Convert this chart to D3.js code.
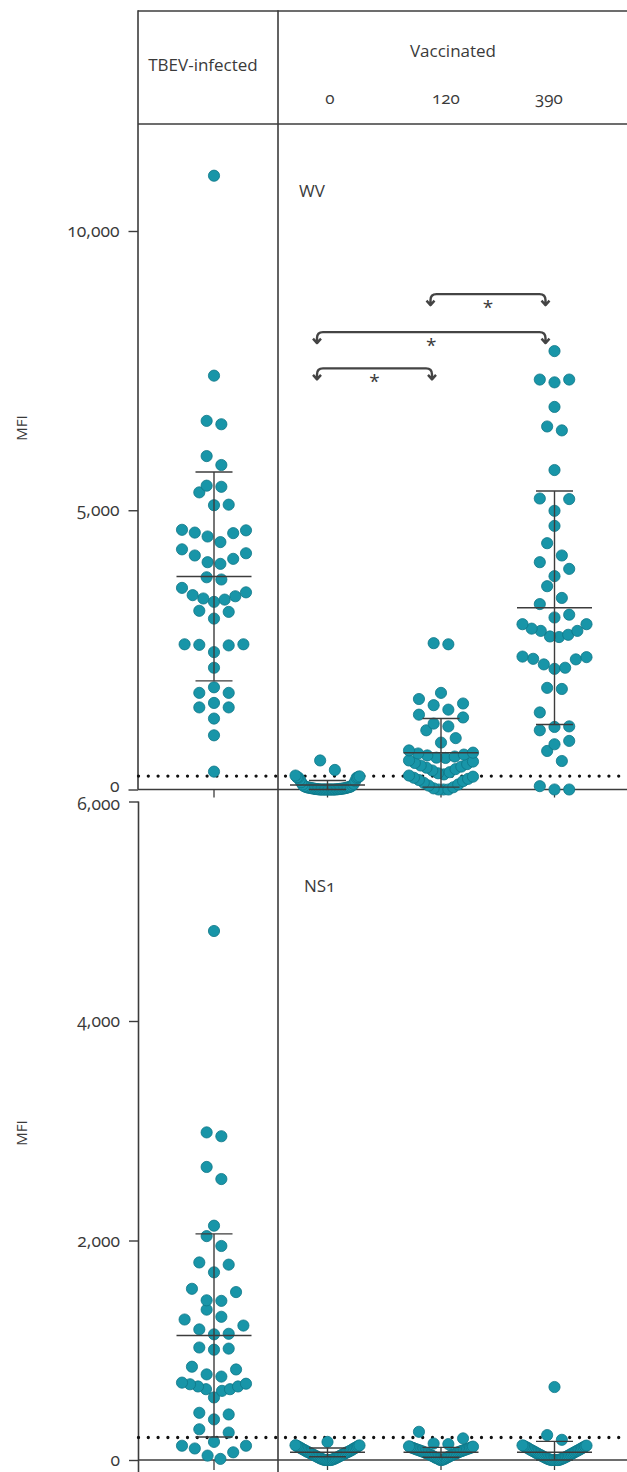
<!DOCTYPE html>
<html><head><meta charset="utf-8">
<script src="https://cdn.jsdelivr.net/npm/d3@7"></script>
<style>
body{margin:0;background:#fff;}
svg text{font-family:"Open Sans",sans-serif;fill:#3a3a3a;font-variant-numeric:oldstyle-nums;}
</style></head><body>
<svg id="c" width="627" height="1472"></svg>
<script>
// ---- data ----
const groups = ["TBEV-infected", "0", "120", "390"];
const wvTBEV = [10990, 7410, 6600, 6540, 5970, 5810, 5440, 5420, 5320, 5100, 5090, 4650, 4600, 4530, 4430, 4590, 4640, 4300, 4190, 4230, 4130, 4040, 4070, 3800, 3760, 3610, 3480, 3420, 3360, 3400, 3460, 3530, 3180, 3200, 3060, 2600, 2600, 2580, 2590, 2460, 2180, 1830, 1730, 1730, 1470, 1550, 1470, 1270, 970, 320];
const wv0 = [520, 350, 250, 235, 220, 220, 215, 210, 175, 150, 130, 100, 90, 75, 60, 55, 50, 45, 40, 40, 35, 30, 30, 25, 25, 20, 20, 15, 15, 12, 10, 10, 8, 5, 5, 5, 0, 0, 0, 0, 0, 0, 0, 0, 0, 0, 0, 0];
const wv120 = [2600, 2620, 1730, 1620, 1540, 1510, 1430, 1340, 1290, 1180, 1130, 1060, 920, 840, 700, 660, 645, 625, 610, 590, 570, 565, 520, 500, 475, 455, 430, 410, 390, 365, 340, 310, 290, 270, 250, 230, 210, 190, 170, 150, 120, 90, 70, 40, 20, 0, 0, 0];
const wv390 = [7850, 7340, 7290, 7340, 6850, 6430, 6500, 5720, 5210, 5200, 4990, 4720, 4410, 4190, 4070, 3950, 3820, 3640, 3430, 3320, 3130, 3080, 2960, 2840, 2770, 2730, 2740, 2840, 2880, 2960, 2370, 2330, 2180, 2160, 2240, 2340, 2380, 1800, 1820, 1380, 1130, 1060, 1120, 870, 810, 690, 510, 60, 0, 0];
const nsTBEV = [4820, 2985, 2950, 2670, 2560, 2135, 2040, 1950, 1780, 1800, 1710, 1530, 1560, 1450, 1455, 1370, 1305, 1280, 1225, 1190, 1150, 1145, 1015, 1005, 1025, 825, 850, 760, 780, 695, 670, 645, 630, 570, 645, 670, 690, 705, 430, 415, 370, 250, 280, 165, 130, 130, 105, 70, 40, 10];
const ns0 = [165, 135, 133, 128, 126, 121, 118, 114, 111, 107, 104, 99, 96, 93, 88, 86, 82, 78, 75, 73, 70, 66, 63, 60, 57, 52, 50, 47, 44, 40, 37, 33, 30, 27, 24, 20, 17, 14, 12, 9, 6, 4, 2, 0, 0, 0, 0, 0];
const ns120 = [257, 197, 150, 145, 125, 122, 118, 115, 112, 110, 108, 105, 102, 100, 97, 95, 92, 90, 88, 85, 82, 80, 78, 75, 72, 70, 66, 62, 60, 57, 55, 52, 48, 45, 42, 40, 35, 32, 28, 25, 20, 18, 15, 10, 8, 5, 0, 0];
const ns390 = [665, 227, 184, 134, 131, 127, 124, 120, 116, 113, 109, 106, 101, 97, 94, 90, 86, 83, 80, 76, 72, 68, 65, 61, 58, 54, 50, 47, 43, 40, 36, 33, 29, 26, 22, 19, 16, 13, 10, 7, 5, 3, 0, 0, 0, 0, 0, 0];
const wvMean = [3815, 80, 657, 3255];
const wvSD = [1870, 80, 615, 2090];
const nsMean = [1135, 70, 70, 70];
const nsSD = [925, 40, 45, 100];
const wvTicks = [0, 5000, 10000];
const nsTicks = [0, 2000, 4000, 6000];
const wvCutoff = 240;
const nsCutoff = 205;
const compFrom = ["0", "0", "120"];
const compTo = ["120", "390", "390"];
const compLevel = [7540, 8190, 8870];
const compLabel = ["*", "*", "*"];
const panelLabels = ["WV", "NS1"];

// ---- drawing ----
const svg = d3.select("#c");
const LINE = "#3c3c3c";
const x = d3.scalePoint().domain(groups).range([214, 554.5]);
const yWV = d3.scaleLinear().domain([0, 10000]).range([789.5, 231]);
const yNS = d3.scaleLinear().domain([0, 6000]).range([1460, 801.5]);

function ln(x1, y1, x2, y2, w) {
  svg.append("line").attr("x1", x1).attr("y1", y1).attr("x2", x2).attr("y2", y2)
    .attr("stroke", LINE).attr("stroke-width", w || 1.6);
}
// frame
ln(138, 11, 627, 11);
ln(138, 124, 627, 124);
ln(138, 10.2, 138, yWV(0));
ln(278, 10.2, 278, 1472);
ln(138, yWV(0), 627, yWV(0));
ln(138.5, yNS(6000), 138.5, 1472);
ln(138, yNS(0), 627, yNS(0));

// header
svg.append("text").attr("x", 203).attr("y", 71).attr("text-anchor", "middle").attr("font-size", 17).text(groups[0]);
svg.append("text").attr("x", 453).attr("y", 57).attr("text-anchor", "middle").attr("font-size", 17).text("Vaccinated");
const headX = [330, 446, 549];
groups.slice(1).forEach((g, i) => {
  svg.append("text").attr("x", headX[i]).attr("y", 104).attr("text-anchor", "middle").attr("font-size", 17).text(g);
});
svg.append("text").attr("x", 299).attr("y", 197).attr("font-size", 17).text(panelLabels[0]);
svg.append("text").attr("x", 304).attr("y", 892).attr("font-size", 17).text(panelLabels[1]);

// y axes
function yAxis(scale, ticks, x0) {
  const g = svg.append("g").attr("transform", `translate(${x0},0)`)
    .call(d3.axisLeft(scale).tickValues(ticks).tickFormat(d3.format(",")).tickSize(9.5).tickPadding(9));
  g.select(".domain").remove();
  g.selectAll(".tick line").attr("stroke", LINE).attr("stroke-width", 1.4);
  g.selectAll(".tick text").attr("font-size", 17.5).attr("fill", "#3a3a3a")
    .style("font-family", "'Open Sans',sans-serif");
  return g;
}
const axTop = yAxis(yWV, wvTicks, 138);
axTop.selectAll(".tick text").filter(d => d === 0).attr("dy", "0.1em");
const axBot = yAxis(yNS, nsTicks, 138.5);
axBot.selectAll(".tick text").filter(d => d === 6000).attr("dy", "0.45em");
[[428, "MFI"], [1133, "MFI"]].forEach(([cy, t]) => {
  svg.append("text").attr("transform", `translate(27,${cy}) rotate(-90)`)
    .attr("text-anchor", "middle").attr("font-size", 15).text(t);
});

// category ticks
groups.forEach(g => {
  ln(x(g), yWV(0), x(g), yWV(0) + 8, 1.3);
  ln(x(g), yNS(0), x(g), yNS(0) + 10, 1.3);
});

// cutoff dotted lines
[[yWV(wvCutoff)], [yNS(nsCutoff)]].forEach(([yy]) => {
  svg.append("line").attr("x1", 138.5).attr("x2", 627).attr("y1", yy).attr("y2", yy)
    .attr("stroke", "#111").attr("stroke-width", 3.3).attr("stroke-linecap", "round")
    .attr("stroke-dasharray", "0 9.8");
});

// swarm layout: rows of nearby values, spread centre-out
function swarm(values, y, H, span, step) {
  const pts = values.map(v => ({ v, py: y(v) })).sort((a, b) => a.v - b.v);
  const rows = [];
  let cur = null;
  pts.forEach(p => {
    if (!cur || cur.base - p.py > H) { cur = { base: p.py, pts: [] }; rows.push(cur); }
    cur.pts.push(p);
  });
  rows.forEach(r => {
    const n = r.pts.length;
    const s = n > 1 ? Math.min(step, span / (n - 1)) : 0;
    const slots = d3.range(n).map(k => (k - (n - 1) / 2) * s)
      .sort((a, b) => Math.abs(a) - Math.abs(b) || b - a);
    r.pts.forEach((p, k) => p.dx = slots[k]);
  });
  return pts;
}

function panel(series, y, means, sds) {
  series.forEach((vals, i) => {
    const cx = x(groups[i]);
    const pts = swarm(vals, y, 15, 64, 14.7);
    svg.append("g").selectAll("circle").data(pts).join("circle")
      .attr("cx", d => cx + d.dx).attr("cy", d => d.py).attr("r", 5.6)
      .attr("fill", "#1895a8").attr("stroke", "#0e7686").attr("stroke-width", 0.8);
  });
  series.forEach((vals, i) => {
    const cx = x(groups[i]);
    const m = means[i], s = sds[i];
    const lo = Math.max(0, m - s), hi = m + s;
    ln(cx, y(lo), cx, y(hi), 1.4);
    ln(cx - 18.5, y(hi), cx + 18.5, y(hi), 1.4);
    ln(cx - 18.5, y(lo), cx + 18.5, y(lo), 1.4);
    ln(cx - 37.5, y(m), cx + 37.5, y(m), 1.4);
  });
}
panel([wvTBEV, wv0, wv120, wv390], yWV, wvMean, wvSD);
panel([nsTBEV, ns0, ns120, ns390], yNS, nsMean, nsSD);

// significance brackets
compLevel.forEach((lv, i) => {
  const x1 = x(compFrom[i]) - 10.5, x2 = x(compTo[i]) - 9;
  const yb = yWV(lv), r = 6, d = 11;
  svg.append("path")
    .attr("d", `M${x1},${yb + d} L${x1},${yb + r} Q${x1},${yb} ${x1 + r},${yb} L${x2 - r},${yb} Q${x2},${yb} ${x2},${yb + r} L${x2},${yb + d}` +
      ` M${x1 - 4},${yb + d - 4.5} L${x1},${yb + d} L${x1 + 4},${yb + d - 4.5}` +
      ` M${x2 - 4},${yb + d - 4.5} L${x2},${yb + d} L${x2 + 4},${yb + d - 4.5}`)
    .attr("fill", "none").attr("stroke", "#444").attr("stroke-width", 2.4)
    .attr("stroke-linejoin", "round");
  svg.append("text").attr("x", (x1 + x2) / 2).attr("y", yb + 20).attr("text-anchor", "middle")
    .attr("font-size", 19).text(compLabel[i]);
});
</script>
</body></html>
